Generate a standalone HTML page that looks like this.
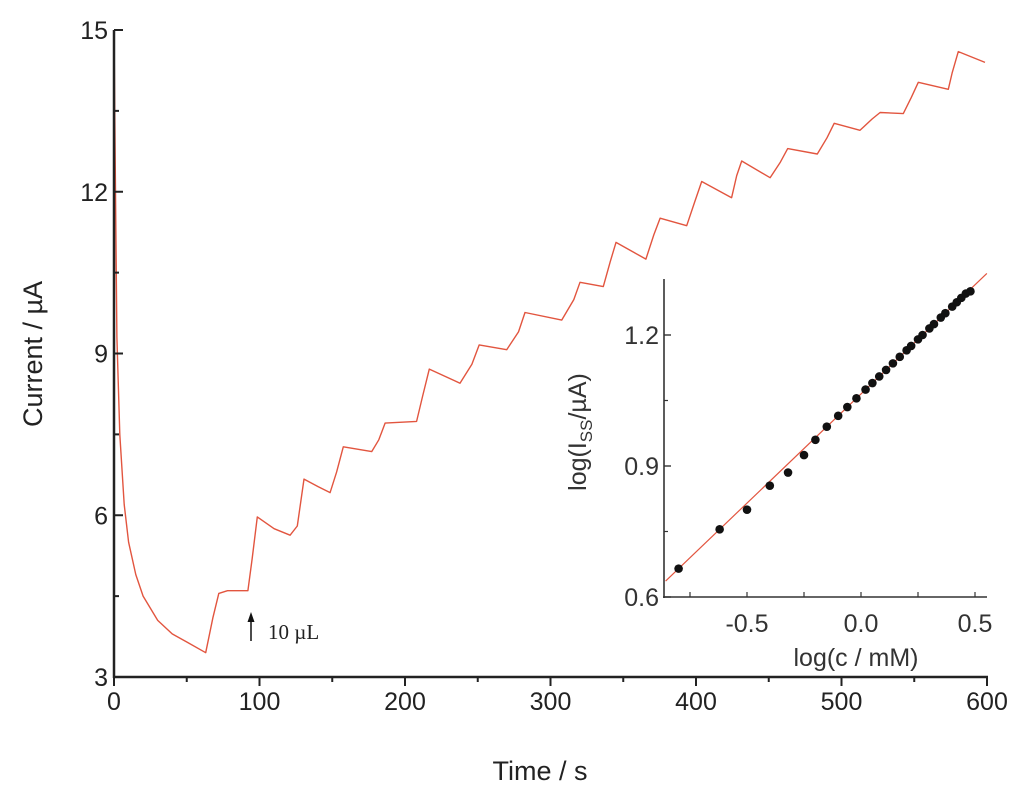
<!DOCTYPE html>
<html><head><meta charset="utf-8"><style>
html,body{margin:0;padding:0;background:#fff;}
svg{display:block;font-family:"Liberation Sans",Arial,sans-serif;}
</style></head><body>
<svg id="chart" width="1024" height="790" viewBox="0 0 1024 790"></svg>
<script>
const xTicks=[0,100,200,300,400,500,600];
const yTicks=[3,6,9,12,15];
const timeS=[0,1,2,4,7,10,15,20,30,40,50,63,68,72,78,92,95,98.5,110,121,126,130.6,140.4,148.5,153,157.6,177.1,182,186.3,208,212,216.7,237.8,246,251,269.9,278,282.5,307.7,316,320.3,336.3,341,345,365.6,371,375.3,393.6,399,403.9,424.5,428,431.4,450.9,458,463,483.4,490,495,512.7,521,526.5,542.5,548,552.8,573.4,576,580.3,598.6];
const currentUA=[15,12,9.3,7.5,6.2,5.5,4.9,4.5,4.05,3.8,3.65,3.45,4.1,4.55,4.6,4.6,5.2,5.97,5.75,5.63,5.8,6.67,6.53,6.42,6.8,7.27,7.18,7.4,7.71,7.74,8.2,8.71,8.45,8.8,9.16,9.07,9.4,9.76,9.62,10.0,10.32,10.24,10.7,11.06,10.75,11.2,11.51,11.37,11.8,12.19,11.89,12.3,12.57,12.26,12.55,12.80,12.70,13.0,13.27,13.14,13.35,13.47,13.45,13.75,14.03,13.90,14.2,14.60,14.40];
const inXTicks=[-0.5,0.0,0.5];
const inYTicks=[0.6,0.9,1.2];
const logC=[-0.8,-0.62,-0.5,-0.4,-0.32,-0.25,-0.2,-0.15,-0.1,-0.06,-0.02,0.02,0.05,0.08,0.11,0.14,0.17,0.2,0.22,0.25,0.27,0.3,0.32,0.35,0.37,0.4,0.42,0.44,0.46,0.48];
const logI=[0.665,0.755,0.80,0.855,0.885,0.925,0.96,0.99,1.015,1.035,1.055,1.075,1.09,1.105,1.12,1.135,1.15,1.165,1.175,1.19,1.20,1.215,1.225,1.24,1.25,1.265,1.275,1.285,1.295,1.30];
const fitLine=[1.065,0.5];

const NS="http://www.w3.org/2000/svg";
const svg=document.getElementById('chart');
function mk(tag,attrs,parent){const e=document.createElementNS(NS,tag);for(const k in attrs)e.setAttribute(k,attrs[k]);(parent||svg).appendChild(e);return e;}
const X=t=>114+t*(987-114)/600;
const Y=v=>677-(v-3)*(677-30)/12;
let d=timeS.map((t,i)=>(i?'L':'M')+X(t).toFixed(1)+','+Y(currentUA[i]).toFixed(1)).join(' ');
const curve=mk('path',{d:d,fill:'none',stroke:'#e2553f','stroke-width':1.4,'stroke-linejoin':'round'});


const yAxis=mk('line',{x1:114,y1:30,x2:114,y2:678,stroke:'#222','stroke-width':2.5});


const xAxis=mk('line',{x1:113,y1:677,x2:988,y2:677,stroke:'#222','stroke-width':2.5});


for(let t=0;t<=600;t+=50){const maj=t%100===0;mk('line',{x1:X(t),y1:677,x2:X(t),y2:677+(maj?9:5),stroke:'#222','stroke-width':2});}
xTicks.forEach(t=>{const e=mk('text',{x:X(t),y:710,'text-anchor':'middle','font-size':25,fill:'#222'});e.textContent=t;

});
for(let v=3;v<=15;v+=1.5){const maj=Number.isInteger(v/3);mk('line',{x1:114,y1:Y(v),x2:114+(maj?9:5),y2:Y(v),stroke:'#222','stroke-width':2});}
yTicks.forEach(v=>{const e=mk('text',{x:108,y:Y(v)+9,'text-anchor':'end','font-size':25,fill:'#222'});e.textContent=v;

});
const xt=mk('text',{x:540,y:780,'text-anchor':'middle','font-size':27,fill:'#222'});xt.textContent='Time / s';


const yt=mk('text',{x:0,y:0,'text-anchor':'middle','font-size':27,fill:'#222',transform:'translate(42,354) rotate(-90)'});yt.textContent='Current / µA';


const ar=mk('g',{});


mk('line',{x1:251,y1:641,x2:251,y2:620,stroke:'#111','stroke-width':1.5},ar);
mk('polygon',{points:'247.5,622 254.5,622 251,612',fill:'#111'},ar);
const at=mk('text',{x:268,y:639,'font-size':21,fill:'#222','font-family':'"Liberation Serif",serif'},ar);at.textContent='10 µL';
const IX=v=>861+v*(975-861)/0.5;
const IY=v=>597-(v-0.6)*(597-335)/0.6;
const ins=mk('g',{});


const x0=-0.857,x1=0.552;
const fl=mk('line',{x1:IX(x0),y1:IY(fitLine[0]+fitLine[1]*x0),x2:IX(x1),y2:IY(fitLine[0]+fitLine[1]*x1),stroke:'#e2553f','stroke-width':1.2},ins);


logC.forEach((c,i)=>{const p=mk('circle',{cx:IX(c),cy:IY(logI[i]),r:4.3,fill:'#111'},ins);

});
mk('line',{x1:664,y1:279,x2:664,y2:598,stroke:'#333','stroke-width':1.6},ins);
mk('line',{x1:663,y1:597,x2:987,y2:597,stroke:'#333','stroke-width':1.6},ins);
for(let v=0.75;v<=1.3;v+=0.3)mk('line',{x1:664,y1:IY(v),x2:668,y2:IY(v),stroke:'#333','stroke-width':1.2},ins);
inYTicks.forEach(v=>{mk('line',{x1:664,y1:IY(v),x2:671,y2:IY(v),stroke:'#333','stroke-width':1.4},ins);
const e=mk('text',{x:659,y:IY(v)+9,'text-anchor':'end','font-size':25,fill:'#333'},ins);e.textContent=v.toFixed(1);

});
for(let v=-0.75;v<=0.5;v+=0.25)mk('line',{x1:IX(v),y1:597,x2:IX(v),y2:592,stroke:'#333','stroke-width':1.2},ins);
inXTicks.forEach(v=>{const e=mk('text',{x:IX(v),y:632,'text-anchor':'middle','font-size':25,fill:'#333'},ins);e.textContent=v.toFixed(1);

});
const ixt=mk('text',{x:856,y:666,'text-anchor':'middle','font-size':25,fill:'#333'},ins);ixt.textContent='log(c / mM)';


const iyt=mk('text',{x:0,y:0,'text-anchor':'middle','font-size':25,fill:'#333',transform:'translate(586,432) rotate(-90)'},ins);
iyt.innerHTML='log(I<tspan font-size="17" dy="6">SS</tspan><tspan dy="-6">/µA)</tspan>';


</script>
</body></html>
